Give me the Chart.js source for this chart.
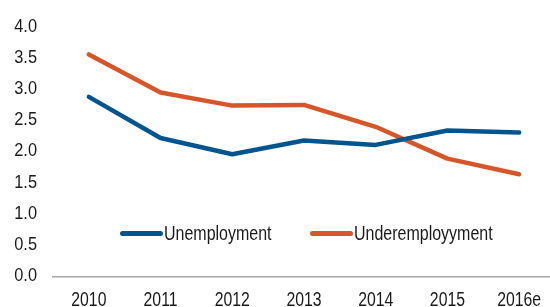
<!DOCTYPE html>
<html>
<head>
<meta charset="utf-8">
<script src="https://cdn.jsdelivr.net/npm/chart.js@4"></script>
<style>
  html, body { margin: 0; padding: 0; background: #fff; overflow: hidden; }
  #wrap { position: relative; width: 550px; height: 307px; overflow: hidden; }
  .legend { position: absolute; top: 222px; display: flex; align-items: center;
    font-family: "Liberation Sans", Arial, sans-serif; font-size: 19.5px; color: #1a1a1a; }
  .legend .swatch { display: inline-block; width: 43px; height: 5px; border-radius: 3px; margin-right: 1px; }
  .legend .txt { display: inline-block; transform: scaleX(0.82); transform-origin: left center; }
</style>
</head>
<body>
<div id="wrap">
  <!-- canvas a bit wider than the view: last category sits near the right edge -->
  <canvas id="chart" width="555" height="307"></canvas>
  <div class="legend" style="left:120px"><span class="swatch" style="background:#00558e"></span><span class="txt">Unemployment</span></div>
  <div class="legend" style="left:310px"><span class="swatch" style="background:#d6562a"></span><span class="txt">Underemployyment</span></div>
</div>
<script>
  const years = ['2010', '2011', '2012', '2013', '2014', '2015', '2016e'];
  const unemployment = [2.88, 2.22, 1.96, 2.18, 2.11, 2.34, 2.31];
  const underemployment = [3.56, 2.95, 2.74, 2.75, 2.40, 1.89, 1.64];
  const yTicks = [0, 0.5, 1, 1.5, 2, 2.5, 3, 3.5, 4];

  const fontFamily = '"Liberation Sans", Arial, sans-serif';

  // tick labels in a narrow face: draw them squeezed horizontally
  const narrowTicks = {
    id: 'narrowTicks',
    afterDraw(chart) {
      const ctx = chart.ctx;
      const x = chart.scales.x, y = chart.scales.y;
      ctx.save();
      ctx.fillStyle = '#1a1a1a';

      ctx.font = '19.5px ' + fontFamily;
      ctx.textAlign = 'center';
      ctx.textBaseline = 'alphabetic';
      years.forEach((lab, i) => {
        ctx.save();
        ctx.translate(x.getPixelForValue(i), 305.5);
        ctx.scale(0.81, 1);
        ctx.fillText(lab, 0, 0);
        ctx.restore();
      });

      ctx.font = '19px ' + fontFamily;
      ctx.textAlign = 'right';
      ctx.textBaseline = 'middle';
      yTicks.forEach(v => {
        ctx.save();
        ctx.translate(37, y.getPixelForValue(v) - 0.5);
        ctx.scale(0.86, 1);
        ctx.fillText(v.toFixed(1), 0, 0);
        ctx.restore();
      });
      ctx.restore();
    }
  };

  new Chart(document.getElementById('chart'), {
    type: 'line',
    data: {
      labels: years,
      datasets: [
        {
          label: 'Unemployment',
          data: unemployment,
          borderColor: '#00558e',
          borderWidth: 4.5,
          pointRadius: 0,
          tension: 0,
          borderCapStyle: 'round',
          borderJoinStyle: 'round'
        },
        {
          label: 'Underemployyment',
          data: underemployment,
          borderColor: '#d6562a',
          borderWidth: 4.5,
          pointRadius: 0,
          tension: 0,
          borderCapStyle: 'round',
          borderJoinStyle: 'round'
        }
      ]
    },
    options: {
      responsive: false,
      animation: false,
      layout: { padding: { top: 27, right: 0, left: 0, bottom: 0 } },
      plugins: { legend: { display: false }, tooltip: { enabled: false } },
      scales: {
        x: {
          offset: true,
          grid: { display: false, drawTicks: false },
          border: { display: true, color: '#a6a6a6', width: 1.5 },
          ticks: { display: false },
          afterFit: (scale) => { scale.height = 30.5; }
        },
        y: {
          min: 0,
          max: 4,
          afterBuildTicks: (scale) => { scale.ticks = yTicks.map(v => ({ value: v })); },
          grid: { display: false, drawTicks: false },
          border: { display: false },
          ticks: { display: false },
          afterFit: (scale) => { scale.width = 53; }
        }
      }
    },
    plugins: [narrowTicks]
  });
</script>
</body>
</html>
